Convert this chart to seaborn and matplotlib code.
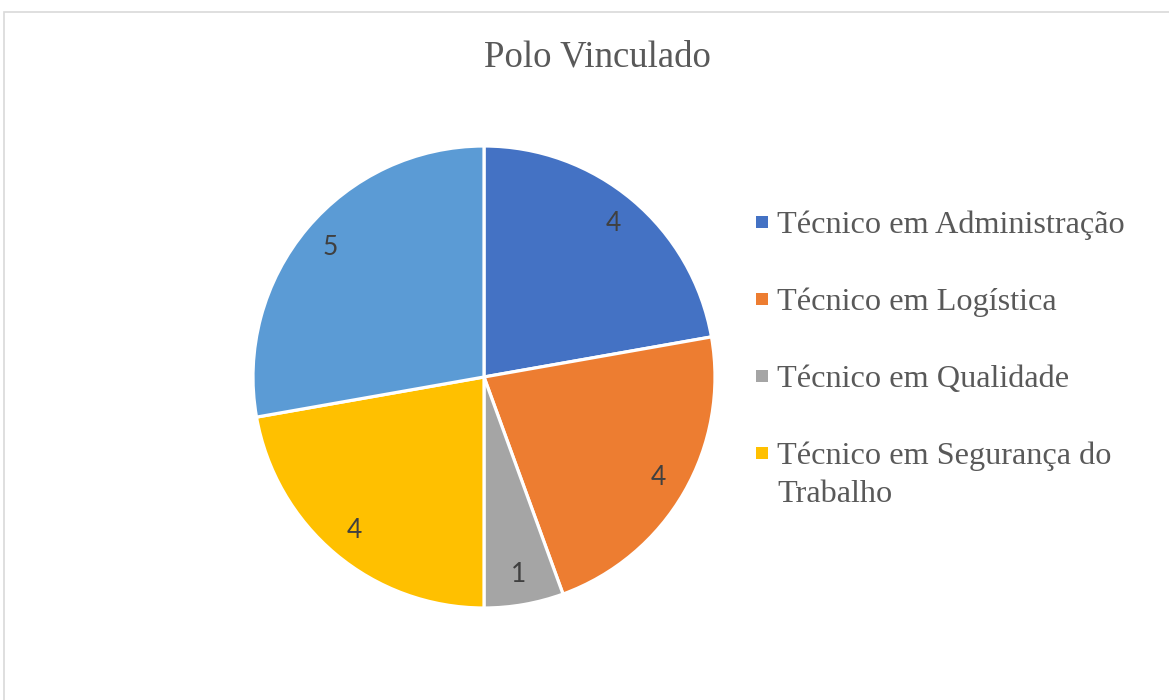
import matplotlib
matplotlib.use("Agg")
import matplotlib.pyplot as plt
import seaborn as sns
from matplotlib.patches import Rectangle

# data
cursos = ['Técnico em Administração', 'Técnico em Logística', 'Técnico em Qualidade',
          'Técnico em Segurança do\nTrabalho', 'Outro']
alunos = [4, 4, 1, 4, 5]
cores = ['#4472C4', '#ED7D31', '#A5A5A5', '#FFC000', '#5B9BD5']
titulo = 'Polo Vinculado'

sns.set_theme(style='white')
plt.rcParams['font.family'] = ['Liberation Serif', 'DejaVu Serif']

W, H = 1169, 700
fig = plt.figure(figsize=(W / 100, H / 100), dpi=100)
fig.patch.set_facecolor('white')

# chart frame (cut at the right and bottom in the picture)
fig.add_artist(Rectangle((4 / W, -0.05), 1.2, (H - 12) / H + 0.05, transform=fig.transFigure,
                         fill=False, edgecolor='#D9D9D9', linewidth=1.2))

# pie centre and radius in pixels
cx, cy, r = 484, 377, 231
ax = fig.add_axes([(cx - r) / W, (H - cy - r) / H, 2 * r / W, 2 * r / H])
total = sum(alunos)
palette = sns.color_palette(cores)
wedges, _, autotexts = ax.pie(alunos, colors=palette, startangle=90, counterclock=False,
                              radius=1, autopct=lambda p: f'{round(p * total / 100)}',
                              pctdistance=0.87,
                              wedgeprops=dict(edgecolor='white', linewidth=2.3),
                              textprops=dict(color='#404040', fontsize=19, family=['Lato', 'DejaVu Sans']))
ax.set_xlim(-1, 1)
ax.set_ylim(-1, 1)
ax.set_aspect('equal')
ax.axis('off')

fig.text(597 / W, 1 - 57 / H, titulo, ha='center', va='center', fontsize=26.5, color='#595959')

# legend drawn by hand (the last category is cut off in the picture)
y = 222
for nome, cor in zip(cursos[:4], palette[:4]):
    fig.add_artist(Rectangle((756 / W, 1 - (y + 6) / H), 12 / W, 12 / H, transform=fig.transFigure,
                             facecolor=cor, edgecolor='none'))
    for k, linha in enumerate(nome.split('\n')):
        fig.text(777 / W, 1 - (y + 38 * k) / H, linha, ha='left', va='center_baseline',
                 fontsize=23.2, color='#595959')
    y += 77

fig.savefig('out.png', dpi=100, facecolor='white')
